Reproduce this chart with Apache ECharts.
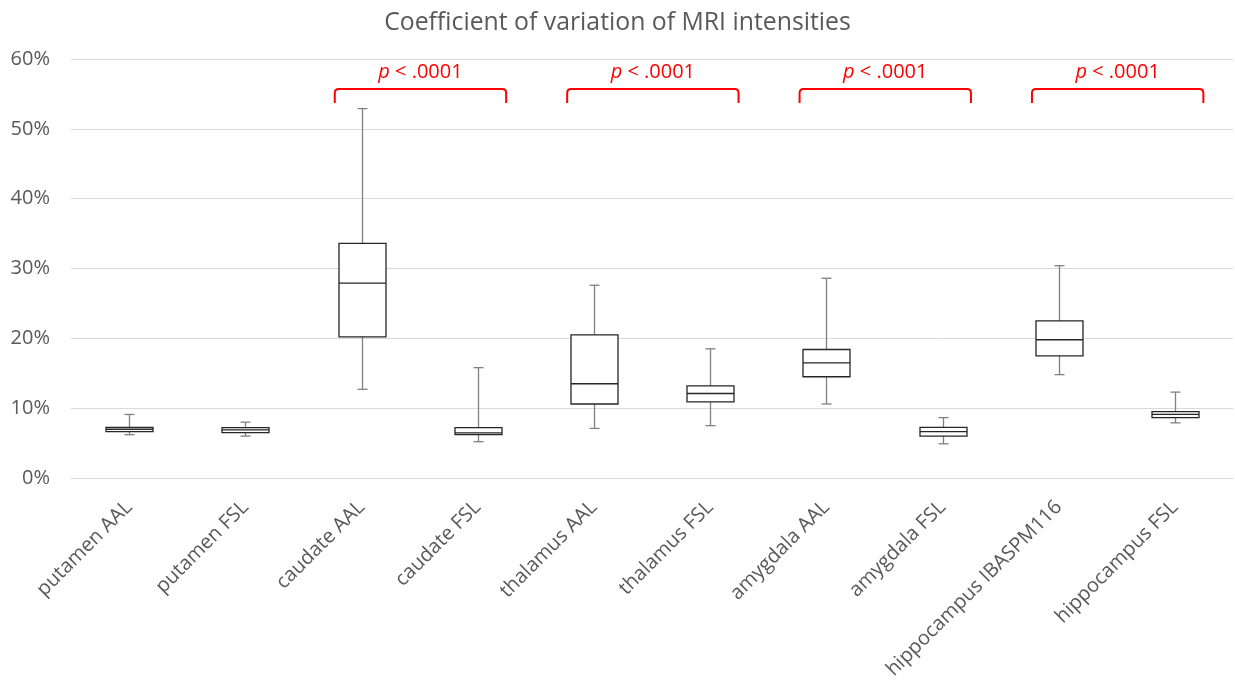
<!DOCTYPE html>
<html>
<head>
<meta charset="utf-8">
<script src="https://cdn.jsdelivr.net/npm/echarts@6/dist/echarts.min.js"></script>
<style>html,body{margin:0;padding:0;background:#fff}#c{width:1235px;height:684px}</style>
</head>
<body>
<div id="c"></div>
<script>
const categories = ['putamen AAL','putamen FSL','caudate AAL','caudate FSL','thalamus AAL','thalamus FSL','amygdala AAL','amygdala FSL','hippocampus IBASPM116','hippocampus FSL'];
const mins    = [6.2, 6.0, 12.7, 5.2, 7.1, 7.5, 10.6, 4.9, 14.8, 7.9];
const q1s     = [6.65, 6.5, 20.2, 6.2, 10.6, 10.9, 14.5, 6.0, 17.5, 8.65];
const medians = [6.98, 6.9, 27.9, 6.45, 13.5, 12.1, 16.5, 6.65, 19.8, 9.1];
const q3s     = [7.26, 7.2, 33.6, 7.2, 20.5, 13.2, 18.4, 7.26, 22.5, 9.5];
const maxs    = [9.1, 8.0, 52.9, 15.8, 27.6, 18.5, 28.6, 8.65, 30.4, 12.3];
const yTicks  = [0, 10, 20, 30, 40, 50, 60];
const pairStarts = [2, 4, 6, 8];
const pairLabel = 'p < .0001';
const bracketTop = 55.7, bracketFoot = 53.7, bracketText = 58.1;

const boxData = categories.map((c, i) => [i, mins[i], q1s[i], medians[i], q3s[i], maxs[i]]);
const bracketData = pairStarts.map(s => [s, bracketTop, bracketFoot, bracketText]);

const chart = echarts.init(document.getElementById('c'), null, {renderer: 'canvas'});
const FONT = 'Open Sans';
chart.setOption({
  animation: false,
  backgroundColor: '#ffffff',
  title: {
    text: 'Coefficient of variation of MRI intensities',
    left: 'center', top: 5,
    textStyle: {fontFamily: FONT, fontSize: 24.8, fontWeight: 'normal', color: '#595959'}
  },
  grid: {left: 71, right: 2, top: 59, height: 419, containLabel: false},
  xAxis: {
    type: 'category', data: categories,
    axisLine: {show: true, lineStyle: {color: '#d9d9d9', width: 1}},
    axisTick: {show: false},
    axisLabel: {rotate: 45, margin: 26, fontFamily: FONT, fontSize: 20, color: '#595959', interval: 0}
  },
  yAxis: {
    type: 'value', min: yTicks[0], max: yTicks[yTicks.length - 1], interval: 10,
    axisLine: {show: false}, axisTick: {show: false},
    axisLabel: {formatter: '{value}%', margin: 21, fontFamily: FONT, fontSize: 20, color: '#595959'},
    splitLine: {lineStyle: {color: '#d9d9d9', width: 1}}
  },
  series: [
    {
      type: 'custom',
      data: boxData,
      encode: {x: 0, y: [1, 2, 3, 4, 5]},
      renderItem: function (params, api) {
        const x = api.value(0);
        const pMin = api.coord([x, api.value(1)]);
        const pQ1 = api.coord([x, api.value(2)]);
        const pMed = api.coord([x, api.value(3)]);
        const pQ3 = api.coord([x, api.value(4)]);
        const pMax = api.coord([x, api.value(5)]);
        const cx = Math.round(pMin[0]) + 0.5;
        const bw = 47, cap = 10;
        const wStyle = {stroke: '#808080', lineWidth: 1.3, fill: null};
        const kStyle = {stroke: '#262626', lineWidth: 1.3, fill: null};
        return {
          type: 'group',
          children: [
            {type: 'line', shape: {x1: cx, y1: pQ3[1], x2: cx, y2: pMax[1]}, style: wStyle},
            {type: 'line', shape: {x1: cx, y1: pQ1[1], x2: cx, y2: pMin[1]}, style: wStyle},
            {type: 'line', shape: {x1: cx - cap / 2, y1: pMax[1], x2: cx + cap / 2, y2: pMax[1]}, style: wStyle},
            {type: 'line', shape: {x1: cx - cap / 2, y1: pMin[1], x2: cx + cap / 2, y2: pMin[1]}, style: wStyle},
            {type: 'rect', shape: {x: cx - bw / 2, y: pQ3[1], width: bw, height: pQ1[1] - pQ3[1]}, style: {stroke: '#262626', lineWidth: 1.3, fill: '#ffffff'}},
            {type: 'line', shape: {x1: cx - bw / 2, y1: pMed[1], x2: cx + bw / 2, y2: pMed[1]}, style: kStyle}
          ]
        };
      },
      z: 3
    },
    {
      type: 'custom',
      data: bracketData,
      encode: {x: 0, y: [1, 2, 3]},
      renderItem: function (params, api) {
        const s = api.value(0);
        const bw = api.size([1, 0])[0];
        const pL = api.coord([s, api.value(1)]);
        const pR = api.coord([s + 1, api.value(1)]);
        const pF = api.coord([s, api.value(2)]);
        const pT = api.coord([s, api.value(3)]);
        const x1 = pL[0] - bw * 0.23, x2 = pR[0] + bw * 0.245;
        const yt = pL[1], yb = pF[1], r = 4;
        const path = 'M' + x1 + ' ' + yb + ' L' + x1 + ' ' + (yt + r) +
          ' Q' + x1 + ' ' + yt + ' ' + (x1 + r) + ' ' + yt +
          ' L' + (x2 - r) + ' ' + yt +
          ' Q' + x2 + ' ' + yt + ' ' + x2 + ' ' + (yt + r) +
          ' L' + x2 + ' ' + yb;
        return {
          type: 'group',
          children: [
            {type: 'path', shape: {pathData: path}, style: {stroke: '#ff0000', lineWidth: 2, fill: null}},
            {type: 'text', x: (x1 + x2) / 2, y: pT[1], style: {
              text: '{i|p}' + pairLabel.slice(1),
              rich: {i: {fontStyle: 'italic', fontFamily: FONT, fontSize: 20, fill: '#ff0000'}},
              fontFamily: FONT, fontSize: 20, fill: '#ff0000', align: 'center', verticalAlign: 'middle'
            }}
          ]
        };
      },
      z: 4
    }
  ]
});
</script>
</body>
</html>
